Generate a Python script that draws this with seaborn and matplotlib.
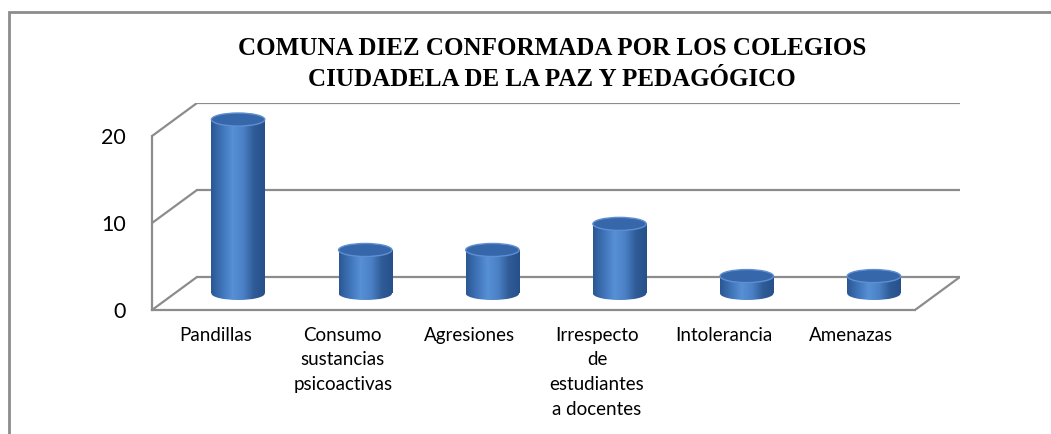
import numpy as np
import pandas as pd
import matplotlib
matplotlib.use("Agg")
import matplotlib.pyplot as plt
from matplotlib.patches import Rectangle, Ellipse
from matplotlib.colors import LinearSegmentedColormap
import seaborn as sns

# data
categorias = ["Pandillas", "Consumo\nsustancias\npsicoactivas", "Agresiones",
              "Irrespecto\nde\nestudiantes\na docentes", "Intolerancia", "Amenazas"]
casos = [20, 5, 5, 8, 2, 2]
y_ticks = [0, 10, 20]

titulo = "COMUNA DIEZ CONFORMADA POR LOS COLEGIOS\nCIUDADELA DE LA PAZ Y PEDAGÓGICO"

df = pd.DataFrame({"Tipo": categorias, "Casos": casos})

sns.set_style("white")
plt.rcParams["font.family"] = ["Lato", "DejaVu Sans"]
plt.rcParams["text.color"] = "black"
plt.rcParams["xtick.labelcolor"] = "black"
plt.rcParams["ytick.labelcolor"] = "black"

GRAY = "#8c8c8c"
DX, DY = 0.354, 3.8      # depth of the fake 3D box (data units)
ELL_H = 1.5              # ellipse height for the cylinder caps

fig = plt.figure(figsize=(10.51, 4.34), dpi=100)

# outer chart border
fig.add_artist(Rectangle((9 / 1051, -0.2), 1.2, (434 - 12) / 434 + 0.2,
                         transform=fig.transFigure, fill=False, ec=GRAY, lw=2))

fig.text(552 / 1051, 1 - 64 / 434, titulo, ha="center", va="center", fontsize=18,
         fontweight="bold", color="black",
         family=["Liberation Serif", "DejaVu Serif"], linespacing=1.45)

ax = fig.add_axes([152 / 1051, (434 - 310) / 434, 808 / 1051, 207 / 434])
sns.barplot(data=df, x="Tipo", y="Casos", width=0.42, color="#4a80c6", ax=ax)
ax.set_xlim(-0.5, 5.5 + DX)
ax.set_ylim(0, 20 + DY)

# back wall gridlines and depth diagonals
for v in y_ticks:
    ax.plot([-0.5 + DX, 5.5 + DX], [v + DY, v + DY], color=GRAY, lw=1.6, zorder=0)
    ax.plot([-0.5, -0.5 + DX], [v, v + DY], color=GRAY, lw=1.6, zorder=0)
ax.plot([5.5, 5.5 + DX], [0, DY], color=GRAY, lw=1.6, zorder=0)

# turn the flat bars into shaded cylinders
cmap = LinearSegmentedColormap.from_list(
    "cyl", ["#2b5791", "#3f73b8", "#5790d6", "#4b80c6", "#2f5b96", "#27508a"])
grad = np.linspace(0, 1, 256).reshape(1, -1)
for p in ax.patches:
    x0 = p.get_x() + DX / 2
    w = p.get_width()
    h = p.get_height()
    y0 = DY / 2
    p.set_x(x0)
    p.set_y(y0)
    p.set_facecolor("none")
    p.set_edgecolor("none")
    bottom = Ellipse((x0 + w / 2, y0), w, ELL_H, fc="none", ec="none")
    ax.add_patch(bottom)
    for clip in (p, bottom):
        im = ax.imshow(grad, cmap=cmap, aspect="auto", zorder=2,
                       extent=[x0, x0 + w, y0 - ELL_H, y0 + h])
        im.set_clip_path(clip)
    ax.add_patch(Ellipse((x0 + w / 2, y0 + h), w, ELL_H, fc="#3767ab",
                         ec="#5f8fd2", lw=1.0, zorder=3))

ax.set_xlim(-0.5, 5.5 + DX)
ax.set_ylim(0, 20 + DY)

# front axes
for s in ["top", "right"]:
    ax.spines[s].set_visible(False)
for s in ["left", "bottom"]:
    ax.spines[s].set_color(GRAY)
    ax.spines[s].set_linewidth(1.6)
ax.spines["left"].set_bounds(0, 20)
ax.spines["bottom"].set_bounds(-0.5, 5.5)

ax.set_yticks(y_ticks)
ax.set_yticklabels([str(t) for t in y_ticks], fontsize=15.5, color="black")
ax.set_xticks(np.arange(-0.5, 6, 1))
ax.set_xticklabels([])
ax.set_xticks(range(len(categorias)), minor=True)
ax.set_xticklabels(categorias, minor=True, fontsize=13.5, linespacing=1.55, color="black")
ax.tick_params(axis="both", which="major", color=GRAY, width=1.6, length=5)
ax.tick_params(axis="y", pad=14)
ax.tick_params(axis="x", which="minor", length=0, pad=12)
ax.set_xlabel("")
ax.set_ylabel("")
ax.grid(False)

fig.savefig("out.png", dpi=100)
